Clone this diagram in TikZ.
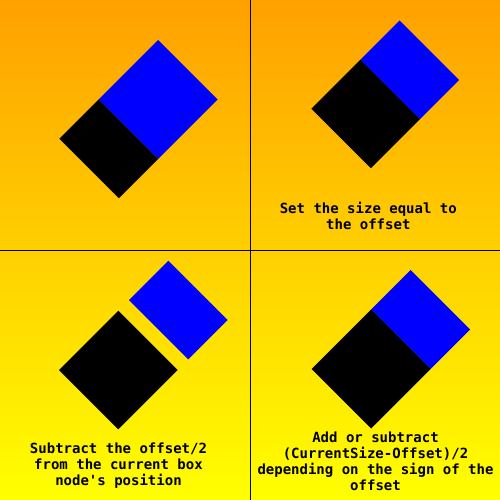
\documentclass[tikz,border=0pt]{standalone}
\usepackage{fontspec}
\setmonofont{DejaVu Sans Mono}
\begin{document}
\begin{tikzpicture}[x=1pt,y=-1pt,
  bluebox/.style={fill=blue},
  blackbox/.style={fill=black},
  divider/.style={draw=black,line width=1pt},
  lbl/.style={font=\ttfamily\bfseries\fontsize{14pt}{15.7pt}\selectfont,align=center,inner sep=0pt,anchor=base}]
\useasboundingbox (0,0) rectangle (500,500);
\shade[top color={rgb,255:red,255;green,160;blue,0},bottom color={rgb,255:red,255;green,255;blue,0}] (0,0) rectangle (500,500);
\draw[divider] (250,0) -- (250,500);
\draw[divider] (0,250) -- (500,250);
% Q1
\fill[bluebox] (158,40) -- (217.5,99.5) -- (158,159) -- (98.5,99.5) -- cycle;
\fill[blackbox] (98.5,99.5) -- (158,159) -- (118.8,198.2) -- (59.3,138.7) -- cycle;
% Q2
\fill[bluebox] (399.5,20.5) -- (459,80) -- (419.8,119.2) -- (360.3,59.7) -- cycle;
\fill[blackbox] (360.3,59.7) -- (419.8,119.2) -- (370.8,168.2) -- (311.3,108.7) -- cycle;
% Q3
\fill[bluebox] (168.3,260.7) -- (227.7,320) -- (188.3,359.3) -- (129,300) -- cycle;
\fill[blackbox] (118.3,310.7) -- (177.7,370) -- (118.3,429.3) -- (59,370) -- cycle;
% Q4
\fill[bluebox] (410.5,270) -- (470,329.5) -- (430.5,369) -- (371,309.5) -- cycle;
\fill[blackbox] (371,309.5) -- (430.5,369) -- (371,428.5) -- (311.5,369) -- cycle;
% labels (anchor=base is the baseline of the last line)
\node[lbl] (t2) at (368.3,229) {Set the size equal to\\the offset};
\node[lbl] (t3) at (118.5,485) {Subtract the offset/2\\from the current box\\node's position};
\node[lbl] (t4) at (375.5,490) {Add or subtract\\(CurrentSize-Offset)/2\\depending on the sign of the\\offset};
\end{tikzpicture}
\end{document}
